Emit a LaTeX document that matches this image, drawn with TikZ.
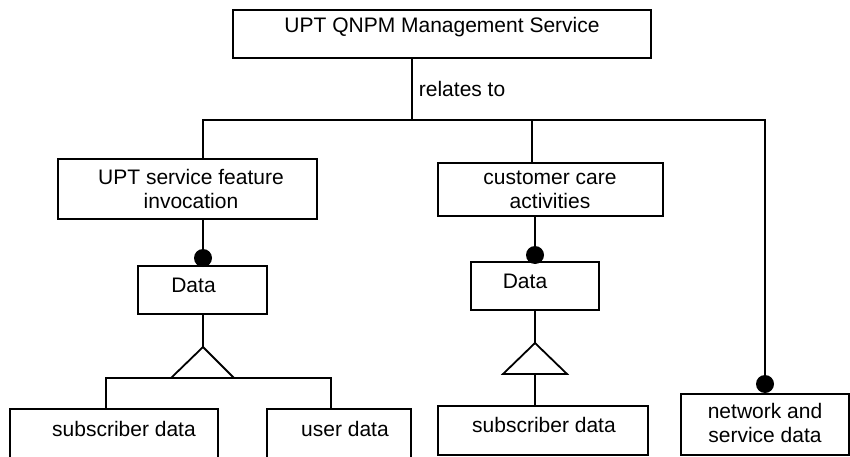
\documentclass[tikz,border=0pt]{standalone}
\usepackage{fontspec}
\setmainfont{Liberation Sans}
\begin{document}
\begin{tikzpicture}[x=1pt, y=-1pt, line width=1.8pt,
  box/.style={draw, inner sep=0pt},
  txt/.style={inner sep=0pt, align=center, font=\fontsize{21}{24.5}\selectfont},
  dot/.style={circle, fill=black, inner sep=0pt, minimum size=18pt}]
  \clip (0,0) rectangle (850,457);

  % boxes
  \node[box, minimum width=418pt, minimum height=48pt] (top)  at (442,34) {};
  \node[box, minimum width=259pt, minimum height=60pt] (upt)  at (187.5,189) {};
  \node[box, minimum width=225pt, minimum height=53pt] (cc)   at (550.5,189.5) {};
  \node[box, minimum width=129pt, minimum height=48pt] (dataA) at (202.5,290) {};
  \node[box, minimum width=128pt, minimum height=48pt] (dataB) at (535,286) {};
  \node[box, minimum width=208pt, minimum height=70pt] (subA) at (114,444) {};
  \node[box, minimum width=144pt, minimum height=70pt] (user) at (339,444) {};
  \node[box, minimum width=210pt, minimum height=49pt] (subB) at (543,430.5) {};
  \node[box, minimum width=168pt, minimum height=61pt] (net)  at (765,424.5) {};

  % texts
  \node[txt] (topT)   at (442,27)  {UPT QNPM Management Service};
  \node[txt, anchor=west] (rel) at (418,89) {relates to};
  \node[txt] (uptT)   at (191,189) {UPT service feature\\invocation};
  \node[txt] (ccT)    at (550,190) {customer care\\activities};
  \node[txt] (dataAT) at (193.5,285) {Data};
  \node[txt] (dataBT) at (525,281) {Data};
  \node[txt] (subAT)  at (124,429) {subscriber data};
  \node[txt] (userT)  at (345,429) {user data};
  \node[txt] (subBT)  at (544,425) {subscriber data};
  \node[txt] (netT)   at (765,423) {network and\\service data};

  % relation bus
  \coordinate (busM) at (412,120);
  \coordinate (busL) at (203,120);
  \coordinate (busC) at (532,120);
  \coordinate (busR) at (765,120);
  \node[dot] (dotN) at (765,384) {};
  \draw (top.south -| busM) -- (busM);
  \draw (upt.north -| busL) -- (busL) -- (busR) -- (dotN.center);
  \draw (busC) -- (cc.north -| busC);

  % aggregation dots
  \node[dot] (dotA) at (203,258) {};
  \node[dot] (dotB) at (535,255) {};
  \draw (upt.south -| dotA) -- (dotA.center);
  \draw (cc.south -| dotB) -- (dotB.center);

  % left generalisation
  \coordinate (apexA) at (203,347);
  \coordinate (baseAL) at (171,378);
  \coordinate (baseAR) at (234,378);
  \coordinate (barL) at (106,378);
  \coordinate (barR) at (331,378);
  \draw (dataA.south -| apexA) -- (apexA);
  \draw[line join=miter] (baseAL) -- (apexA) -- (baseAR);
  \draw (subA.north -| barL) -- (barL) -- (barR) -- (user.north -| barR);

  % right generalisation
  \coordinate (apexB) at (535,343);
  \coordinate (baseBL) at (503,374);
  \coordinate (baseBR) at (567,374);
  \coordinate (baseBM) at (535,374);
  \draw (dataB.south -| apexB) -- (apexB);
  \draw[line join=miter] (baseBL) -- (apexB) -- (baseBR) -- cycle;
  \draw (baseBM) -- (subB.north -| baseBM);
\end{tikzpicture}
\end{document}
